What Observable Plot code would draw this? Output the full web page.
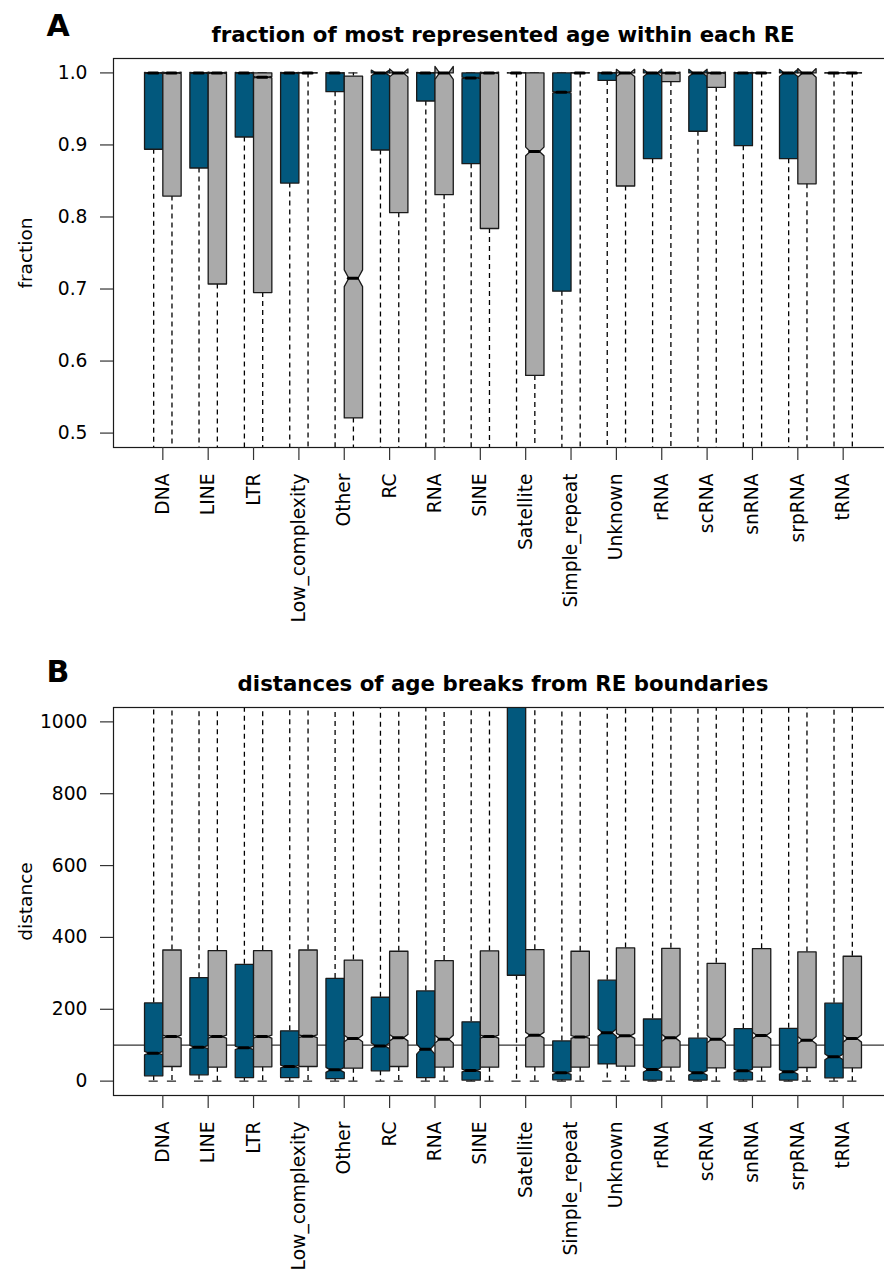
<!DOCTYPE html>
<html><head><meta charset="utf-8">
<script src="https://cdn.jsdelivr.net/npm/d3@7"></script>
<script src="https://cdn.jsdelivr.net/npm/@observablehq/plot@0.6"></script>
<style>
html,body{margin:0;padding:0;background:#fff;overflow:hidden;}
#wrap{width:884px;height:1273px;overflow:hidden;position:relative;background:#fff;}
#wrap svg{display:block;max-width:none !important;}
</style></head><body><div id="wrap"></div>
<script>
const categories = ["DNA","LINE","LTR","Low_complexity","Other","RC","RNA","SINE","Satellite","Simple_repeat","Unknown","rRNA","scRNA","snRNA","srpRNA","tRNA"];

// Panel A: fraction of most represented age (blue = observed, grey = control)
const fracObsLow   = [0.30,0.27,0.33,0.29,0.36,0.31,0.41,0.26,0.38,0.22,0.40,0.34,0.37,0.32,0.35,0.43];
const fracObsQ1    = [0.894,0.868,0.911,0.847,0.974,0.893,0.961,0.874,1.0,0.697,0.9896,0.881,0.919,0.899,0.881,1.0];
const fracObsMed   = [1,1,1,1,1,1,1,0.993,1,0.973,1,1,1,1,1,1];
const fracObsQ3    = [1,1,1,1,1,1,1,1,1,1,1,1,1,1,1,1];
const fracObsHigh  = [1,1,1,1,1,1,1,1,1,1,1,1,1,1,1,1];
const fracObsNotch = [0.0008,0.0008,0.0006,0.0008,0.0005,0.004,0.0006,0.001,0.0002,0.0012,0.0006,0.005,0.005,0.0008,0.005,0.0003];

const fracCtlLow   = [0.25,0.20,0.21,0.33,0.18,0.24,0.28,0.22,0.19,0.37,0.26,0.39,0.36,0.41,0.27,0.44];
const fracCtlQ1    = [0.829,0.707,0.695,1.0,0.521,0.806,0.831,0.784,0.580,1.0,0.843,0.988,0.980,1.0,0.846,1.0];
const fracCtlMed   = [1,1,0.994,1,0.715,1,1,1,0.891,1,1,1,1,1,1,1];
const fracCtlQ3    = [1,1,1,1,0.9956,1,1,1,1,1,1,1,1,1,1,1];
const fracCtlHigh  = [1,1,1,1,1,1,1,1,1,1,1,1,1,1,1,1];
const fracCtlNotch = [0.001,0.001,0.001,0.0003,0.0116,0.0055,0.009,0.001,0.006,0.0003,0.005,0.001,0.001,0.0003,0.006,0.0003];

// Panel B: distances of age breaks from RE boundaries
const distObsLow   = [0,0,0,0,0,0,0,0,0,0,0,0,0,0,0,0];
const distObsQ1    = [14.7,17.5,10,10,7.2,28.6,10,2.8,294.7,3.6,48,2.8,2.8,3.6,2.8,9.2];
const distObsMed   = [77.8,94.5,92.6,40.7,31.4,98,89,29.5,1500,23,135,32.3,23,28.6,25.9,67.6];
const distObsQ3    = [217.7,288,325,140,286,233.5,251,165,4000,112,281,173,119.6,146,147,217];
const distObsHigh  = [3200,3500,3900,2100,3600,2900,3100,2400,9000,1800,3400,2500,1900,2200,2300,2800];
const distObsNotch = [5,5,5,4,7,8,14,4,100,4,10,7,6,5,6,8];

const distCtlLow   = [0,0,0,0,0,0,0,0,0,0,0,0,0,0,0,0];
const distCtlQ1    = [40.7,38.9,39.8,40.7,36,40.7,39,38.9,39.8,39,41.6,39,37,39,38,37];
const distCtlMed   = [124,124,124,125,118.5,121,116.8,124,127.8,123,126,120.4,116.8,126.8,114,118.6];
const distCtlQ3    = [365,363,363,365,337,361.5,335.5,362.4,366,361.5,370.7,369.8,328,368.7,359.6,347.6];
const distCtlHigh  = [2600,2550,2600,2650,2300,2500,2350,2550,2600,2500,2700,2650,2250,2600,2500,2400];
const distCtlNotch = [4,4,4,4,9,9,11,4,8,4,7,10,10,9,10,10];

const yTicksA = [0.5,0.6,0.7,0.8,0.9,1.0];
const yTicksB = [0,200,400,600,800,1000];
const refLineB = [100];

const BLUE = "#02587d", GREY = "#aaaaaa", EDGE = "#1a1a1a";
const W = 0.2018; // half box width in category units
const XDOM = [-1.0876, 16.0876];

function makeBoxes(lo,q1,med,q3,hi,notch,side){
  return categories.map((c,i)=>({cat:c, cx:i+side*W, lo:lo[i], q1:q1[i], med:med[i], q3:q3[i], hi:hi[i], n:notch[i]}));
}
function outline(boxes){
  const pts=[];
  boxes.forEach((b,k)=>{
    const f=[[-1,b.q1],[1,b.q1],[1,b.med-b.n],[0.5,b.med],[1,b.med+b.n],[1,b.q3],[-1,b.q3],[-1,b.med+b.n],[-0.5,b.med],[-1,b.med-b.n],[-1,b.q1]];
    f.forEach(([dx,y])=>pts.push({id:k, x:b.cx+dx*W, y}));
  });
  return pts;
}
function whiskerMarks(boxes){
  return [
    Plot.ruleX(boxes,{x:"cx", y1:"q1", y2:"lo", stroke:"#000", strokeWidth:1.3, strokeDasharray:"5,4", clip:true}),
    Plot.ruleX(boxes,{x:"cx", y1:"q3", y2:"hi", stroke:"#000", strokeWidth:1.3, strokeDasharray:"5,4", clip:true}),
    Plot.ruleY(boxes,{y:"lo", x1:d=>d.cx-W/2, x2:d=>d.cx+W/2, stroke:EDGE, strokeWidth:1.2, clip:true}),
    Plot.ruleY(boxes,{y:"hi", x1:d=>d.cx-W/2, x2:d=>d.cx+W/2, stroke:EDGE, strokeWidth:1.2, clip:true})
  ];
}
function bodyMarks(boxes, fill){
  return [Plot.line(outline(boxes),{x:"x", y:"y", z:"id", fill, stroke:EDGE, strokeWidth:1.3, curve:"linear", clip:true})];
}
function medianMarks(boxes){
  return [Plot.ruleY(boxes,{y:"med", x1:d=>d.cx-W/2, x2:d=>d.cx+W/2, stroke:"#000", strokeWidth:3, strokeLinecap:"round", clip:true})];
}

function panel({obs, ctl, yDomain, yTicks, yFormat, height, mTop, mBottom, letter, title, ylab, letterDy, titleDy, extra}){
  return Plot.plot({
    width: 892, height, marginLeft: 113, marginRight: 0, marginTop: mTop, marginBottom: mBottom,
    style: {fontFamily: "DejaVu Sans", fontSize: "18.7px", color: "#000", background: "#fff", maxWidth: "none"},
    x: {type: "linear", domain: XDOM},
    y: {type: "linear", domain: yDomain},
    marks: [
      ...(extra || []),
      ...whiskerMarks(obs), ...whiskerMarks(ctl),
      ...bodyMarks(obs, BLUE), ...bodyMarks(ctl, GREY),
      ...medianMarks(obs), ...medianMarks(ctl),
      Plot.frame({stroke: EDGE, strokeWidth: 1.2}),
      Plot.axisY({ticks: yTicks, tickFormat: yFormat, tickSize: 13, tickPadding: 13, stroke: "#333", strokeWidth: 1.2, label: null}),
      Plot.axisX({ticks: d3.range(categories.length), tickFormat: i => categories[i], tickRotate: -90, tickSize: 13, tickPadding: 13, stroke: "#333", strokeWidth: 1.2, label: null}),
      Plot.text([title], {frameAnchor: "top", dy: titleDy, fontSize: 21.3, fontWeight: "bold", lineAnchor: "middle", textAnchor: "middle", fill: "#000"}),
      Plot.text([letter], {frameAnchor: "top-left", dx: -67, dy: letterDy, fontSize: 30, fontWeight: "bold", lineAnchor: "middle", textAnchor: "start", fill: "#000"}),
      Plot.text([ylab], {frameAnchor: "left", rotate: -90, dx: -87, fontSize: 18.5, lineAnchor: "middle", textAnchor: "middle", fill: "#000"})
    ]
  });
}

const wrap = document.getElementById("wrap");
wrap.appendChild(panel({
  obs: makeBoxes(fracObsLow,fracObsQ1,fracObsMed,fracObsQ3,fracObsHigh,fracObsNotch,-1),
  ctl: makeBoxes(fracCtlLow,fracCtlQ1,fracCtlMed,fracCtlQ3,fracCtlHigh,fracCtlNotch,1),
  yDomain: [0.48, 1.02], yTicks: yTicksA, yFormat: d3.format(".1f"),
  height: 640, mTop: 58, mBottom: 193,
  letter: "A", title: "fraction of most represented age within each RE", ylab: "fraction",
  letterDy: -32.6, titleDy: -23.3
}));
wrap.appendChild(panel({
  obs: makeBoxes(distObsLow,distObsQ1,distObsMed,distObsQ3,distObsHigh,distObsNotch,-1),
  ctl: makeBoxes(distCtlLow,distCtlQ1,distCtlMed,distCtlQ3,distCtlHigh,distCtlNotch,1),
  yDomain: [-40, 1040], yTicks: yTicksB, yFormat: d3.format("d"),
  height: 633, mTop: 67, mBottom: 178,
  letter: "B", title: "distances of age breaks from RE boundaries", ylab: "distance",
  letterDy: -35.6, titleDy: -23.5,
  extra: [Plot.ruleY(refLineB, {stroke: "#333", strokeWidth: 1.2})]
}));
</script></body></html>
